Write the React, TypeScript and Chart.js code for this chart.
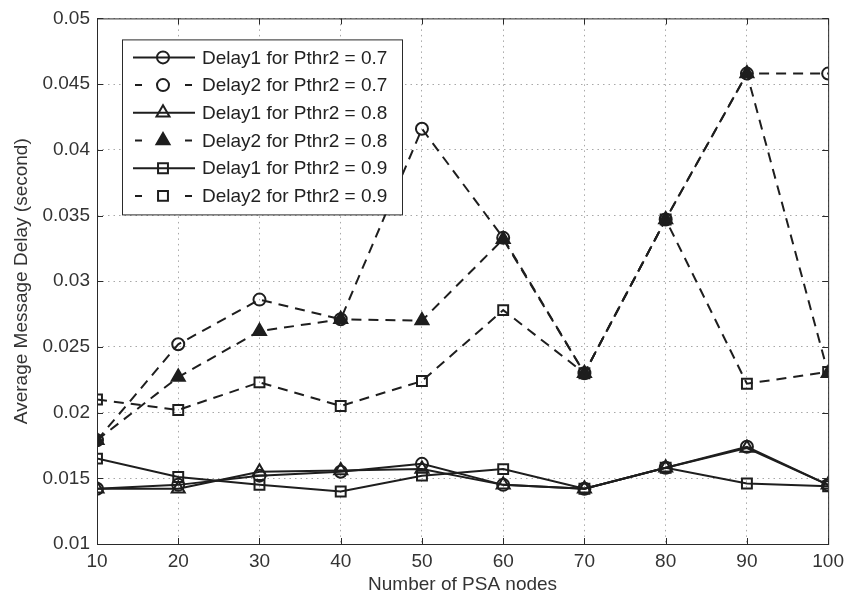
import React, { useEffect, useRef } from 'react';
import { Chart, registerables } from 'chart.js';

Chart.register(...registerables);

// ---- data ----
const nodes = [10, 20, 30, 40, 50, 60, 70, 80, 90, 100];
const delay1P07 = [0.0142, 0.0145, 0.0152, 0.0155, 0.0161, 0.0145, 0.0142, 0.0158, 0.0174, 0.0145];
const delay2P07 = [0.0179, 0.0252, 0.0286, 0.0271, 0.0416, 0.0333, 0.0230, 0.0347, 0.0458, 0.0458];
const delay1P08 = [0.0142, 0.0142, 0.0155, 0.0156, 0.0157, 0.0145, 0.0142, 0.0158, 0.0173, 0.0145];
const delay2P08 = [0.0179, 0.0227, 0.0262, 0.0271, 0.0270, 0.0332, 0.0230, 0.0347, 0.0458, 0.0230];
const delay1P09 = [0.0165, 0.0151, 0.0145, 0.0140, 0.0152, 0.0157, 0.0142, 0.0158, 0.0146, 0.0144];
const delay2P09 = [0.0210, 0.0202, 0.0223, 0.0205, 0.0224, 0.0278, 0.0230, 0.0347, 0.0222, 0.0231];

const seriesLabels = [
  'Delay1 for Pthr2 = 0.7',
  'Delay2 for Pthr2 = 0.7',
  'Delay1 for Pthr2 = 0.8',
  'Delay2 for Pthr2 = 0.8',
  'Delay1 for Pthr2 = 0.9',
  'Delay2 for Pthr2 = 0.9',
];
const seriesValues = [delay1P07, delay2P07, delay1P08, delay2P08, delay1P09, delay2P09];
const seriesMarkers = ['circle', 'circle', 'triangle', 'triangle', 'rect', 'rect'];
const seriesDashed = [false, true, false, true, false, true];
const seriesFilled = [false, false, false, true, false, false];

const xTitle = 'Number of PSA nodes';
const yTitle = 'Average Message Delay (second)';
const xMin = 10, xMax = 100, xStep = 10;
const yMin = 0.01, yMax = 0.05, yStep = 0.005;

const INK = '#1e1e1e';
const TEXT = '#333333';
const FONT = "'Liberation Sans', Arial, sans-serif";
const DASH = [10, 7];

const markerRadius: Record<string, number> = { circle: 6, triangle: 7.5, rect: 7 };

function drawMarker(ctx: CanvasRenderingContext2D, style: string, x: number, y: number, filled: boolean) {
  const r = markerRadius[style];
  ctx.save();
  ctx.setLineDash([]);
  ctx.lineWidth = 2;
  ctx.strokeStyle = INK;
  ctx.fillStyle = INK;
  ctx.beginPath();
  if (style === 'circle') {
    ctx.arc(x, y, r, 0, Math.PI * 2);
  } else if (style === 'triangle') {
    ctx.moveTo(x, y - r);
    ctx.lineTo(x + r * Math.sin((2 * Math.PI) / 3), y - r * Math.cos((2 * Math.PI) / 3));
    ctx.lineTo(x + r * Math.sin((4 * Math.PI) / 3), y - r * Math.cos((4 * Math.PI) / 3));
    ctx.closePath();
  } else {
    const s = r * Math.SQRT1_2;
    ctx.rect(x - s, y - s, 2 * s, 2 * s);
  }
  if (filled) ctx.fill();
  ctx.stroke();
  ctx.restore();
}

const frameAndTicks = {
  id: 'frameAndTicks',
  afterDatasetsDraw(chart: any) {
    const { ctx, chartArea: a, scales } = chart;
    ctx.save();
    ctx.strokeStyle = '#2a2a2a';
    ctx.lineWidth = 1;
    ctx.setLineDash([]);
    ctx.strokeRect(a.left + 0.5, a.top + 0.5, a.right - a.left, a.bottom - a.top);
    const tl = 6;
    ctx.beginPath();
    scales.x.ticks.forEach((t: any) => {
      const px = Math.round(scales.x.getPixelForValue(t.value)) + 0.5;
      ctx.moveTo(px, a.bottom);
      ctx.lineTo(px, a.bottom - tl);
      ctx.moveTo(px, a.top);
      ctx.lineTo(px, a.top + tl);
    });
    scales.y.ticks.forEach((t: any) => {
      const py = Math.round(scales.y.getPixelForValue(t.value)) + 0.5;
      ctx.moveTo(a.left, py);
      ctx.lineTo(a.left + tl, py);
      ctx.moveTo(a.right, py);
      ctx.lineTo(a.right - tl, py);
    });
    ctx.stroke();
    ctx.restore();
  },
};

const boxLegend = {
  id: 'boxLegend',
  afterDraw(chart: any) {
    const { ctx, chartArea: a } = chart;
    const x0 = a.left + 25;
    const y0 = a.top + 21;
    const w = 280;
    const rowH = 27.7;
    const h = 175;
    ctx.save();
    ctx.fillStyle = '#ffffff';
    ctx.fillRect(x0, y0, w, h);
    ctx.strokeStyle = '#2a2a2a';
    ctx.lineWidth = 1;
    ctx.strokeRect(x0 + 0.5, y0 + 0.5, w, h);
    ctx.font = `19px ${FONT}`;
    ctx.textBaseline = 'middle';
    ctx.textAlign = 'left';
    chart.data.datasets.forEach((ds: any, i: number) => {
      const cy = y0 + 18 + i * rowH;
      const lx1 = x0 + 11;
      const lx2 = x0 + 73;
      const mx = x0 + 41;
      ctx.strokeStyle = INK;
      ctx.lineWidth = 2;
      ctx.setLineDash([]);
      ctx.beginPath();
      if (seriesDashed[i]) {
        ctx.moveTo(lx1 + 2, cy);
        ctx.lineTo(lx1 + 9, cy);
        ctx.moveTo(lx2 - 10, cy);
        ctx.lineTo(lx2 - 3, cy);
      } else {
        ctx.moveTo(lx1, cy);
        ctx.lineTo(lx2, cy);
      }
      ctx.stroke();
      drawMarker(ctx, seriesMarkers[i], mx, cy, seriesFilled[i]);
      ctx.fillStyle = '#222';
      ctx.fillText(ds.label, x0 + 80, cy + 1);
    });
    ctx.restore();
  },
};

export default function App() {
  const canvasRef = useRef<HTMLCanvasElement | null>(null);

  useEffect(() => {
    if (!canvasRef.current) return;
    const datasets = seriesLabels.map((label, i) => ({
      label,
      data: nodes.map((n, j) => ({ x: n, y: seriesValues[i][j] })),
      borderColor: INK,
      backgroundColor: seriesFilled[i] ? INK : 'rgba(0,0,0,0)',
      borderWidth: 2,
      borderDash: seriesDashed[i] ? DASH : [],
      pointStyle: seriesMarkers[i],
      pointRadius: markerRadius[seriesMarkers[i]],
      pointBorderWidth: 2,
      pointBorderColor: INK,
      pointBackgroundColor: seriesFilled[i] ? INK : 'rgba(0,0,0,0)',
      tension: 0,
      fill: false,
    }));

    const chart = new Chart(canvasRef.current, {
      type: 'line',
      data: { datasets },
      options: {
        animation: false,
        responsive: false,
        maintainAspectRatio: false,
        layout: { padding: { top: 16, right: 17, left: 0, bottom: 0 } },
        plugins: {
          legend: { display: false },
          tooltip: { enabled: false },
        },
        scales: {
          x: {
            type: 'linear',
            min: xMin,
            max: xMax,
            ticks: {
              stepSize: xStep,
              color: TEXT,
              font: { family: FONT, size: 19 },
              padding: 6,
              maxRotation: 0,
            },
            grid: {
              color: '#a8a8a8',
              lineWidth: 1,
              drawTicks: false,
            },
            border: { display: false, dash: [1.5, 4] },
            title: {
              display: true,
              text: xTitle,
              color: TEXT,
              font: { family: FONT, size: 19 },
              padding: { top: 0, bottom: 5 },
            },
            afterFit: (s: any) => {
              s.height = 57;
            },
          },
          y: {
            type: 'linear',
            min: yMin,
            max: yMax,
            ticks: {
              stepSize: yStep,
              color: TEXT,
              font: { family: FONT, size: 19 },
              padding: 7,
              callback: (v: any) => String(parseFloat(Number(v).toFixed(3))),
            },
            grid: {
              color: '#a8a8a8',
              lineWidth: 1,
              drawTicks: false,
            },
            border: { display: false, dash: [1.5, 4] },
            title: {
              display: true,
              text: yTitle,
              color: TEXT,
              font: { family: FONT, size: 19 },
              padding: { top: 10, bottom: 0 },
            },
            afterFit: (s: any) => {
              s.width = 97;
            },
          },
        },
      },
      plugins: [frameAndTicks, boxLegend],
    });
    return () => chart.destroy();
  }, []);

  return (
    <div style={{ position: 'fixed', left: 0, top: 0, width: 850, height: 601, background: '#fff' }}>
      <canvas ref={canvasRef} width={850} height={601} style={{ display: 'block' }} />
    </div>
  );
}
